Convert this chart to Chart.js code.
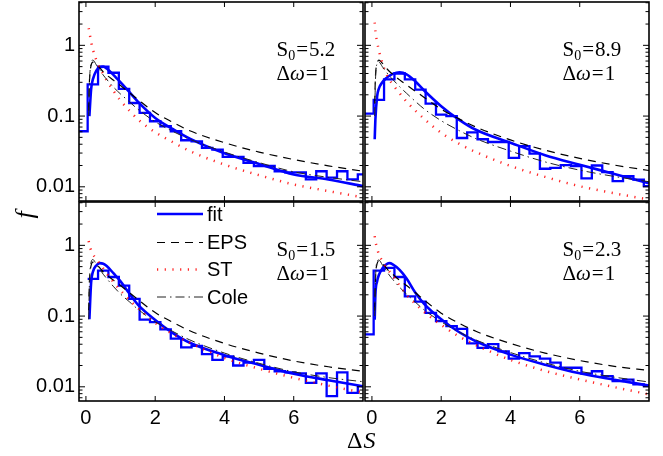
<!DOCTYPE html>
<html>
<head>
<meta charset="utf-8">
<script src="https://cdn.jsdelivr.net/npm/chart.js@4.4.1/dist/chart.umd.min.js"></script>
<style>
  html, body { margin: 0; padding: 0; background: #fff; }
  #wrap { position: relative; width: 663px; height: 456px; }
  #wrap canvas { position: absolute; left: 0; top: 0; }
</style>
</head>
<body>
<div id="wrap">
  <canvas id="p-tl" width="663" height="456"></canvas>
  <canvas id="p-tr" width="663" height="456"></canvas>
  <canvas id="p-bl" width="663" height="456"></canvas>
  <canvas id="p-br" width="663" height="456"></canvas>
</div>
<script>
const PAGE_W = 663;
const PAGE_H = 456;

// shared axes
const xTicks = [0, 2, 4, 6];
const yTicks = [0.01, 0.1, 1];
const panelS0 = ['5.2', '8.9', '1.5', '2.3'];
const deltaOmega = '1';
const legendLabels = ['fit', 'EPS', 'ST', 'Cole'];

// histogram bin edges (left edge of each bin, plus the closing edge)
const binEdges = [-0.25, 0.05, 0.35, 0.65, 0.95, 1.25, 1.55, 1.85, 2.15, 2.45, 2.75, 3.05, 3.35, 3.65,
  3.95, 4.25, 4.55, 4.85, 5.15, 5.45, 5.75, 6.05, 6.35, 6.65, 6.95, 7.25, 7.55, 7.85, 8.15];

// x positions where the model curves were read
const curveX = [0.08, 0.1, 0.15, 0.2, 0.3, 0.4, 0.5, 0.6, 0.8, 1, 1.25, 1.5, 2, 2.5, 3, 4, 5, 6, 7, 8];

// S0 = 5.2
const histTL = [0.061, 0.28, 0.5, 0.41, 0.242, 0.153, 0.111, 0.0845, 0.0718, 0.061, 0.0455, 0.044, 0.0355, 0.0336,
  0.0265, 0.0265, 0.0218, 0.0197, 0.0197, 0.0166, 0.016, 0.016, 0.0127, 0.0166, 0.0135, 0.0166, 0.0127, 0.015];
const fitTL = [null, 0.1, 0.24, 0.33, 0.44, 0.49, 0.5, 0.47, 0.38, 0.3, 0.22, 0.16, 0.094, 0.066, 0.048, 0.0298, 0.021, 0.0149, 0.0127, 0.0102];
const epsTL = [0.12, 0.3, 0.52, 0.58, 0.54, 0.48, 0.42, 0.38, 0.32, 0.27, 0.215, 0.172, 0.112, 0.082, 0.062, 0.042, 0.031, 0.0243, 0.0198, 0.0166];
const stTL = [1.75, 1.55, 1.12, 0.88, 0.62, 0.48, 0.39, 0.32, 0.225, 0.165, 0.12, 0.09, 0.059, 0.043, 0.032, 0.0206, 0.0146, 0.0108, 0.0087, 0.0071];
const coleTL = [0.1, 0.28, 0.56, 0.62, 0.53, 0.45, 0.38, 0.33, 0.255, 0.205, 0.16, 0.125, 0.083, 0.061, 0.047, 0.031, 0.022, 0.0163, 0.0136, 0.0118];

// S0 = 8.9
const histTR = [0.108, 0.17, 0.33, 0.4, 0.33, 0.237, 0.15, 0.105, 0.1, 0.049, 0.059, 0.047, 0.043, 0.043,
  0.0257, 0.0375, 0.0295, 0.018, 0.0185, 0.0203, 0.0197, 0.0132, 0.02, 0.0161, 0.012, 0.0142, 0.0126, 0.0102];
const fitTR = [0.047, 0.09, 0.19, 0.245, 0.3, 0.34, 0.37, 0.395, 0.415, 0.39, 0.31, 0.232, 0.138, 0.09, 0.064, 0.042, 0.028, 0.0205, 0.0152, 0.0112];
const epsTR = [0.15, 0.35, 0.55, 0.62, 0.56, 0.49, 0.43, 0.39, 0.325, 0.275, 0.225, 0.185, 0.125, 0.092, 0.07, 0.046, 0.033, 0.0252, 0.0203, 0.017];
const stTR = [2.1, 1.6, 1.12, 0.85, 0.56, 0.41, 0.33, 0.28, 0.21, 0.16, 0.12, 0.092, 0.058, 0.041, 0.031, 0.0197, 0.0138, 0.0102, 0.0081, 0.0066];
const coleTR = [0.1, 0.3, 0.55, 0.58, 0.5, 0.43, 0.37, 0.33, 0.26, 0.21, 0.162, 0.127, 0.086, 0.063, 0.048, 0.032, 0.0225, 0.0172, 0.014, 0.0118];

// S0 = 1.5
const histBL = [null, 0.335, 0.44, 0.357, 0.27, 0.175, 0.089, 0.082, 0.065, 0.048, 0.036, 0.038, 0.029, 0.024,
  0.027, 0.02, 0.022, 0.024, 0.018, 0.0166, 0.016, 0.0155, 0.0114, 0.0155, 0.0074, 0.016, 0.0082, 0.0102];
const fitBL = [null, 0.09, 0.3, 0.42, 0.52, 0.56, 0.55, 0.51, 0.4, 0.31, 0.21, 0.145, 0.088, 0.058, 0.042, 0.028, 0.0205, 0.0153, 0.0124, 0.0102];
const epsBL = [0.12, 0.3, 0.52, 0.58, 0.54, 0.48, 0.42, 0.38, 0.32, 0.27, 0.215, 0.172, 0.112, 0.082, 0.062, 0.041, 0.03, 0.0232, 0.0192, 0.0166];
const stBL = [1.15, 1.0, 0.85, 0.75, 0.64, 0.55, 0.47, 0.4, 0.3, 0.23, 0.17, 0.13, 0.08, 0.056, 0.042, 0.0255, 0.018, 0.0134, 0.0104, 0.0083];
const coleBL = [0.09, 0.28, 0.58, 0.63, 0.54, 0.46, 0.39, 0.34, 0.26, 0.205, 0.16, 0.125, 0.083, 0.061, 0.046, 0.03, 0.0215, 0.0163, 0.0135, 0.0118];

// S0 = 2.3
const histBR = [0.055, 0.44, 0.48, 0.357, 0.19, 0.16, 0.111, 0.085, 0.072, 0.066, 0.041, 0.0355, 0.04, 0.0317,
  0.025, 0.03, 0.027, 0.025, 0.022, 0.0186, 0.0186, 0.0154, 0.0166, 0.0142, 0.012, 0.0126, 0.0108, 0.0102];
const fitBR = [0.089, 0.2, 0.31, 0.38, 0.47, 0.53, 0.56, 0.54, 0.45, 0.34, 0.215, 0.15, 0.09, 0.06, 0.044, 0.0285, 0.0205, 0.0155, 0.0126, 0.0104];
const epsBR = [0.12, 0.32, 0.55, 0.6, 0.55, 0.49, 0.43, 0.39, 0.32, 0.27, 0.215, 0.17, 0.11, 0.08, 0.061, 0.041, 0.03, 0.0235, 0.0195, 0.017];
const stBR = [1.35, 1.15, 0.9, 0.75, 0.6, 0.5, 0.43, 0.37, 0.27, 0.2, 0.15, 0.115, 0.075, 0.052, 0.039, 0.024, 0.0168, 0.0127, 0.0099, 0.0078];
const coleBR = [0.1, 0.3, 0.6, 0.62, 0.53, 0.45, 0.38, 0.33, 0.255, 0.205, 0.158, 0.123, 0.083, 0.06, 0.046, 0.0305, 0.0218, 0.0166, 0.0137, 0.0117];

const BLUE = '#0000ff';
const SANS = "'Liberation Sans', Arial, sans-serif";
const SERIF = "'Liberation Serif', 'Times New Roman', serif";

const lineStyles = {
  fit: { borderColor: BLUE, borderWidth: 2.6, borderDash: [], order: 4 },
  EPS: { borderColor: '#000', borderWidth: 1.2, borderDash: [8, 6], order: 3 },
  ST: { borderColor: 'rgba(255,0,0,0.85)', borderWidth: 2.5, borderDash: [1.2, 6.5], order: 2 },
  Cole: { borderColor: '#222', borderWidth: 1, borderDash: [9, 4, 1.5, 4], order: 1 }
};

const panels = [
  { id: 'p-tl', box: { left: 79, top: 2, right: 363, bottom: 201 }, s0: panelS0[0], showX: false, showY: true,
    hist: histTL, fit: fitTL, eps: epsTL, st: stTL, cole: coleTL },
  { id: 'p-tr', box: { left: 365, top: 2, right: 649, bottom: 201 }, s0: panelS0[1], showX: false, showY: false,
    hist: histTR, fit: fitTR, eps: epsTR, st: stTR, cole: coleTR },
  { id: 'p-bl', box: { left: 79, top: 202, right: 363, bottom: 401 }, s0: panelS0[2], showX: true, showY: true,
    hist: histBL, fit: fitBL, eps: epsBL, st: stBL, cole: coleBL, legend: true },
  { id: 'p-br', box: { left: 365, top: 202, right: 649, bottom: 401 }, s0: panelS0[3], showX: true, showY: false,
    hist: histBR, fit: fitBR, eps: epsBR, st: stBR, cole: coleBR }
];

const stepPoints = (vals) => {
  const pts = vals.map((v, i) => ({ x: binEdges[i], y: v }));
  pts.push({ x: binEdges[vals.length], y: vals[vals.length - 1] });
  return pts;
};
const curvePoints = (vals) => curveX.map((x, i) => ({ x, y: vals[i] }));

// the axis boxes fill the margins exactly, so the plot area lands on the panel box
const fixAxis = (size) => (scale) => {
  if (scale.isHorizontal()) scale.height = size; else scale.width = size;
  scale.paddingTop = 0;
  scale.paddingBottom = 0;
  scale.paddingLeft = 0;
  scale.paddingRight = 0;
};

const strokeLine = (ctx, x1, y1, x2, y2) => {
  ctx.beginPath();
  ctx.moveTo(x1, y1);
  ctx.lineTo(x2, y2);
  ctx.stroke();
};

// inward tick marks on all four sides and the box
const framePlugin = {
  id: 'frame',
  afterDraw(chart) {
    const { ctx, chartArea: a, scales: { x, y } } = chart;
    ctx.save();
    ctx.strokeStyle = '#000';
    ctx.lineWidth = 1;
    for (let e = -3; e <= 0; e++) {
      for (let m = 1; m <= 9; m++) {
        const v = m * Math.pow(10, e);
        if (v < y.min || v > y.max) continue;
        const py = y.getPixelForValue(v);
        const len = m === 1 ? 6 : 3.5;
        strokeLine(ctx, a.left, py, a.left + len, py);
        strokeLine(ctx, a.right - len, py, a.right, py);
      }
    }
    xTicks.forEach((v) => {
      const px = x.getPixelForValue(v);
      strokeLine(ctx, px, a.top, px, a.top + 5);
      strokeLine(ctx, px, a.bottom - 5, px, a.bottom);
    });
    ctx.lineWidth = 1.6;
    ctx.strokeRect(a.left, a.top, a.right - a.left, a.bottom - a.top);
    ctx.restore();
  }
};

// "S0=.." and "Δω=1" in each panel
const panelTextPlugin = {
  id: 'panelText',
  afterDraw(chart, args, opts) {
    const { ctx, chartArea: a } = chart;
    const big = `21px ${SERIF}`;
    ctx.save();
    ctx.fillStyle = '#000';
    ctx.textAlign = 'left';
    ctx.textBaseline = 'alphabetic';
    let x = a.left + 197.5;
    let y = a.top + 54;
    ctx.font = big;
    ctx.fillText('S', x, y);
    x += ctx.measureText('S').width;
    ctx.font = `14px ${SERIF}`;
    ctx.fillText('0', x, y + 4);
    x += ctx.measureText('0').width + 1;
    ctx.font = big;
    ctx.fillText('=', x, y);
    x += ctx.measureText('=').width + 1;
    ctx.fillText(opts.s0, x, y);

    x = a.left + 197.5;
    y = a.top + 78;
    ctx.fillText('Δ', x, y);
    x += ctx.measureText('Δ').width;
    ctx.font = `italic ${big}`;
    ctx.fillText('ω', x, y);
    x += ctx.measureText('ω').width + 1;
    ctx.font = big;
    ctx.fillText('=', x, y);
    x += ctx.measureText('=').width + 1;
    ctx.fillText(deltaOmega, x, y);
    ctx.restore();
  }
};

// legend in the lower-left panel, plus the shared axis titles
const legendPlugin = {
  id: 'pageLegend',
  afterDraw(chart) {
    const { ctx } = chart;
    const rows = [214, 242.5, 269.5, 297];
    ctx.save();
    legendLabels.forEach((name, i) => {
      const ds = chart.data.datasets.find((d) => d.label === name);
      ctx.strokeStyle = ds.borderColor;
      ctx.lineWidth = ds.borderWidth;
      ctx.setLineDash(ds.borderDash);
      strokeLine(ctx, 157, rows[i], 203, rows[i]);
      ctx.setLineDash([]);
      ctx.fillStyle = '#000';
      ctx.font = `20px ${SANS}`;
      ctx.textAlign = 'left';
      ctx.textBaseline = 'middle';
      ctx.fillText(name, 207, rows[i] + 1);
    });

    // y title
    ctx.save();
    ctx.translate(26, 215);
    ctx.rotate(-Math.PI / 2);
    ctx.font = `italic 26px ${SERIF}`;
    ctx.textAlign = 'center';
    ctx.textBaseline = 'middle';
    ctx.fillText('f', 0, 0);
    ctx.restore();

    // x title
    ctx.textBaseline = 'alphabetic';
    ctx.font = `24px ${SERIF}`;
    ctx.fillText('Δ', 347, 448);
    const w = ctx.measureText('Δ').width;
    ctx.font = `italic 24px ${SERIF}`;
    ctx.fillText('S', 347 + w + 1, 448);
    ctx.restore();
  }
};

const buildPanel = (p) => {
  const curveDataset = (name, vals) => ({
    label: name,
    data: curvePoints(vals),
    ...lineStyles[name],
    cubicInterpolationMode: 'monotone',
    spanGaps: true
  });

  const datasets = [
    { label: 'data', data: stepPoints(p.hist), stepped: true, borderColor: BLUE, borderWidth: 2.3, order: 5 },
    curveDataset('fit', p.fit),
    curveDataset('EPS', p.eps),
    curveDataset('ST', p.st),
    curveDataset('Cole', p.cole)
  ];

  const plugins = [framePlugin, panelTextPlugin];
  if (p.legend) plugins.push(legendPlugin);

  return new Chart(document.getElementById(p.id), {
    type: 'line',
    data: { datasets },
    options: {
      responsive: false,
      animation: false,
      devicePixelRatio: 1,
      layout: {
        autoPadding: false,
        padding: { left: 0, top: p.box.top, right: PAGE_W - p.box.right, bottom: 0 }
      },
      elements: { point: { radius: 0 } },
      plugins: {
        legend: { display: false },
        tooltip: { enabled: false },
        panelText: { s0: p.s0 }
      },
      scales: {
        x: {
          type: 'linear',
          min: -0.2,
          max: 8,
          afterBuildTicks: (s) => { s.ticks = xTicks.map((v) => ({ value: v })); },
          afterFit: fixAxis(PAGE_H - p.box.bottom),
          grid: { display: false, drawTicks: false },
          border: { display: false },
          ticks: {
            display: p.showX,
            autoSkip: false,
            maxRotation: 0,
            padding: 5,
            color: '#000',
            font: { family: SANS, size: 20 },
            callback: (v) => String(v)
          }
        },
        y: {
          type: 'logarithmic',
          min: 0.0063,
          max: 4.1,
          afterBuildTicks: (s) => { s.ticks = yTicks.map((v) => ({ value: v })); },
          afterFit: fixAxis(p.box.left),
          grid: { display: false, drawTicks: false },
          border: { display: false },
          ticks: {
            display: p.showY,
            autoSkip: false,
            padding: 4,
            color: '#000',
            font: { family: SANS, size: 20 },
            callback: (v) => String(v)
          }
        }
      }
    },
    plugins
  });
};

panels.forEach(buildPanel);
</script>
</body>
</html>
